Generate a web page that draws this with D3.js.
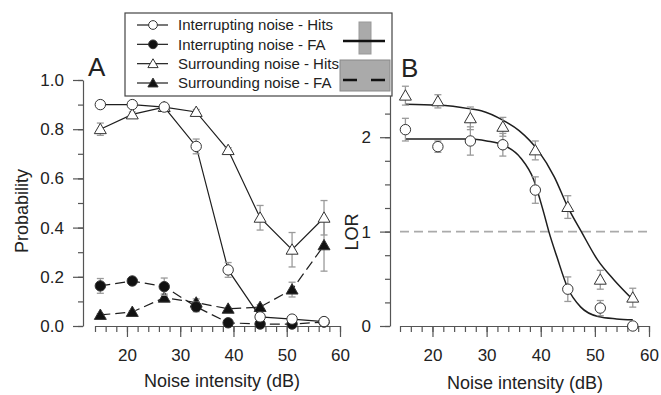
<!DOCTYPE html>
<html><head><meta charset="utf-8">
<script src="https://cdn.jsdelivr.net/npm/d3@7"></script>
<style>
html,body{margin:0;padding:0;background:#fff;}
text{font-family:"Liberation Sans",Arial,sans-serif;fill:#222;}
</style></head>
<body>
<svg id="chart" width="661" height="395"></svg>
<script>
// ---- data ----
const noiseDb = [15, 21, 27, 33, 39, 45, 51, 57];
const xTicksMajor = [20, 30, 40, 50, 60];
const yTicksA = [0.0, 0.2, 0.4, 0.6, 0.8, 1.0];
const yTicksB = [0, 1, 2];

const intHits    = [0.90, 0.90, 0.89, 0.73, 0.228, 0.037, 0.028, 0.018];
const intHitsErr = [0.01, 0.01, 0.01, 0.03, 0.03, 0.01, 0.008, 0.005];
const intFA      = [0.163, 0.183, 0.16, 0.078, 0.013, 0.008, 0.008, 0.016];
const intFAErr   = [0.03, 0.01, 0.035, 0.02, 0.005, 0.005, 0.005, 0.005];
const surHits    = [0.80, 0.86, 0.89, 0.87, 0.715, 0.44, 0.31, 0.44];
const surHitsErr = [0.025, 0.01, 0.01, 0.01, 0.01, 0.05, 0.07, 0.07];
const surFA      = [0.045, 0.057, 0.115, 0.095, 0.07, 0.077, 0.148, 0.328];
const surFAErr   = [0.005, 0.005, 0.015, 0.015, 0.005, 0.01, 0.03, 0.105];

const surLOR    = [2.44, 2.38, 2.20, 2.11, 1.86, 1.26, 0.49, 0.30];
const surLORErr = [0.10, 0.07, 0.12, 0.10, 0.10, 0.12, 0.10, 0.10];
const intLOR    = [2.08, 1.90, 1.96, 1.92, 1.44, 0.39, 0.19, 0.00];
const intLORErr = [0.12, 0.06, 0.15, 0.12, 0.14, 0.13, 0.08, 0.02];

// fitted curves
const surFitDb  = [15, 21, 27, 29, 33, 36, 39.5, 42.5, 45, 47.5, 50.5, 53.5, 57];
const surFitLOR = [2.35, 2.34, 2.30, 2.28, 2.18, 2.07, 1.86, 1.58, 1.26, 1.0, 0.70, 0.49, 0.28];
const intFitDb  = [15, 21, 27, 30, 33, 36.3, 38.7, 40.6, 41.5, 43, 45, 47.4, 50.6, 54, 57];
const intFitLOR = [1.98, 1.98, 1.98, 1.96, 1.92, 1.78, 1.55, 1.19, 1.0, 0.73, 0.40, 0.20, 0.10, 0.075, 0.065];

const legendLabels = ["Interrupting noise - Hits", "Interrupting noise - FA",
                      "Surrounding noise - Hits", "Surrounding noise - FA"];

// ---- drawing ----
const svg = d3.select("#chart");
const lineCol = "#1e1e1e", axisCol = "#555", errCol = "#9a9a9a";

const xA = d3.scaleLinear().domain([14, 60]).range([95, 340]);
const yA = d3.scaleLinear().domain([0, 1]).range([326, 80]);
const xB = d3.scaleLinear().domain([14, 60]).range([400, 649]);
const yB = d3.scaleLinear().domain([0, 2.5]).range([326, 90]);

function styleAxis(g){
  g.select(".domain").attr("stroke", axisCol).attr("stroke-width", 1.2);
  g.selectAll(".tick line").attr("stroke", axisCol).attr("stroke-width", 1.2);
  g.selectAll(".tick text").style("font-size", "17px").attr("fill", "#222");
}
function xAxis(x, yPos){
  const minor = d3.range(14, 60.1, 2);
  const g1 = svg.append("g").attr("transform", `translate(0,${yPos})`)
    .call(d3.axisBottom(x).tickValues(minor).tickSize(6).tickFormat("").tickSizeOuter(0));
  styleAxis(g1);
  const g2 = svg.append("g").attr("transform", `translate(0,${yPos})`)
    .call(d3.axisBottom(x).tickValues(xTicksMajor).tickSize(11).tickPadding(12).tickFormat(d3.format("d")).tickSizeOuter(0));
  styleAxis(g2);
  g2.select(".domain").remove();
}
function yAxis(y, xPos, minor, major, fmt){
  const g1 = svg.append("g").attr("transform", `translate(${xPos},0)`)
    .call(d3.axisLeft(y).tickValues(minor).tickSize(5).tickFormat("").tickSizeOuter(0));
  styleAxis(g1);
  const g2 = svg.append("g").attr("transform", `translate(${xPos},0)`)
    .call(d3.axisLeft(y).tickValues(major).tickSize(10).tickPadding(9).tickFormat(fmt).tickSizeOuter(0));
  styleAxis(g2);
  g2.select(".domain").remove();
}

// Panel A axes
yAxis(yA, 83, d3.range(0, 1.001, 0.1), yTicksA, d3.format(".1f"));
xAxis(xA, 326);
// Panel B axes
yAxis(yB, 390, d3.range(0, 2.501, 0.25), yTicksB, d3.format("d"));
xAxis(xB, 326);

// reference line in B
svg.append("line").attr("x1", xB(14)).attr("x2", xB(60)).attr("y1", yB(1)).attr("y2", yB(1))
  .attr("stroke", "#aaa").attr("stroke-width", 1.6).attr("stroke-dasharray", "9,5");

function series(x, y, vals, errs, opts){
  const pts = noiseDb.map((d, i) => ({x: d, y: vals[i], e: errs[i]}));
  const g = svg.append("g");
  if (opts.line){
    g.append("path").datum(pts)
      .attr("d", d3.line().x(d => x(d.x)).y(d => y(d.y)))
      .attr("fill", "none").attr("stroke", lineCol).attr("stroke-width", 1.2)
      .attr("stroke-dasharray", opts.dash ? "10,5" : null);
  }
  return {g, pts};
}
function errBars(x, y, s){
  s.pts.forEach(d => {
    const cx = x(d.x), t = y(d.y + d.e), bb = y(d.y - d.e);
    s.g.append("line").attr("x1", cx).attr("x2", cx).attr("y1", t).attr("y2", bb)
      .attr("stroke", errCol).attr("stroke-width", 1.3);
    [t, bb].forEach(yy => s.g.append("line").attr("x1", cx - 3.5).attr("x2", cx + 3.5)
      .attr("y1", yy).attr("y2", yy).attr("stroke", errCol).attr("stroke-width", 1.3));
  });
}
function markers(x, y, s, shape, filled, size){
  s.pts.forEach(d => {
    s.g.append("path")
      .attr("d", d3.symbol().type(shape).size(size)())
      .attr("transform", `translate(${x(d.x)},${y(d.y) + (shape === d3.symbolTriangle ? 1 : 0)})`)
      .attr("fill", filled ? "#111" : "#fff").attr("stroke", "#333").attr("stroke-width", 1);
  });
}

// Panel A series
const sA = [
  {v: surFA, e: surFAErr, shape: d3.symbolTriangle, filled: true, dash: true},
  {v: intFA, e: intFAErr, shape: d3.symbolCircle, filled: true, dash: true},
  {v: surHits, e: surHitsErr, shape: d3.symbolTriangle, filled: false, dash: false},
  {v: intHits, e: intHitsErr, shape: d3.symbolCircle, filled: false, dash: false}
].map(o => ({o, s: series(xA, yA, o.v, o.e, {line: true, dash: o.dash})}));
sA.forEach(({s}) => errBars(xA, yA, s));
sA.forEach(({o, s}) => markers(xA, yA, s, o.shape, o.filled, o.shape === d3.symbolCircle ? 85 : 62));

// Panel B fitted curves
const fitLine = d3.line().x(d => xB(d[0])).y(d => yB(d[1])).curve(d3.curveMonotoneX);
svg.append("path").datum(d3.zip(surFitDb, surFitLOR)).attr("d", fitLine)
  .attr("fill", "none").attr("stroke", lineCol).attr("stroke-width", 1.5);
svg.append("path").datum(d3.zip(intFitDb, intFitLOR)).attr("d", fitLine)
  .attr("fill", "none").attr("stroke", lineCol).attr("stroke-width", 1.5);

const sB = [
  {v: surLOR, e: surLORErr, shape: d3.symbolTriangle},
  {v: intLOR, e: intLORErr, shape: d3.symbolCircle}
].map(o => ({o, s: series(xB, yB, o.v, o.e, {line: false})}));
sB.forEach(({s}) => errBars(xB, yB, s));
sB.forEach(({o, s}) => markers(xB, yB, s, o.shape, false, o.shape === d3.symbolCircle ? 85 : 62));

// panel letters and axis titles
svg.append("text").attr("x", 88).attr("y", 76).style("font-size", "26px").text("A");
svg.append("text").attr("x", 401).attr("y", 77).style("font-size", "26px").text("B");
svg.append("text").attr("transform", "translate(28,211) rotate(-90)").attr("text-anchor", "middle")
  .style("font-size", "18px").text("Probability");
svg.append("text").attr("transform", "translate(358,232) rotate(-90)").attr("text-anchor", "middle")
  .style("font-size", "18px").text("LOR");
svg.append("text").attr("x", 222).attr("y", 387).attr("text-anchor", "middle")
  .style("font-size", "18px").text("Noise intensity (dB)");
svg.append("text").attr("x", 525).attr("y", 389).attr("text-anchor", "middle")
  .style("font-size", "18px").text("Noise intensity (dB)");

// legend
const lg = svg.append("g");
lg.append("rect").attr("x", 125).attr("y", 13).attr("width", 267).attr("height", 83)
  .attr("fill", "#fff").attr("stroke", "#444").attr("stroke-width", 1.2);
const legShapes = [[d3.symbolCircle, false], [d3.symbolCircle, true], [d3.symbolTriangle, false], [d3.symbolTriangle, true]];
const rowY = d3.scalePoint().domain(legendLabels).range([25, 83]);
legendLabels.forEach((lab, i) => {
  const yy = rowY(lab);
  lg.append("line").attr("x1", 137).attr("x2", 168).attr("y1", yy).attr("y2", yy)
    .attr("stroke", lineCol).attr("stroke-width", 1.2);
  const [shape, filled] = legShapes[i];
  lg.append("path").attr("d", d3.symbol().type(shape).size(shape === d3.symbolCircle ? 60 : 45)())
    .attr("transform", `translate(153,${yy + (shape === d3.symbolTriangle ? 1 : 0)})`)
    .attr("fill", filled ? "#111" : "#fff").attr("stroke", "#333");
  lg.append("text").attr("x", 178).attr("y", yy).attr("dy", "0.35em")
    .style("font-size", "15px").text(lab);
});
// right-hand legend glyphs
lg.append("rect").attr("x", 359).attr("y", 22).attr("width", 12).attr("height", 32)
  .attr("fill", "#aaa").attr("stroke", "#999");
lg.append("line").attr("x1", 343).attr("x2", 385).attr("y1", 41).attr("y2", 41)
  .attr("stroke", "#111").attr("stroke-width", 2.5);
lg.append("rect").attr("x", 340).attr("y", 60).attr("width", 50).attr("height", 31)
  .attr("fill", "#aaa").attr("stroke", "#888");
lg.append("line").attr("x1", 343).attr("x2", 385).attr("y1", 80).attr("y2", 80)
  .attr("stroke", "#111").attr("stroke-width", 2.5).attr("stroke-dasharray", "14,14");
</script>
</body></html>
